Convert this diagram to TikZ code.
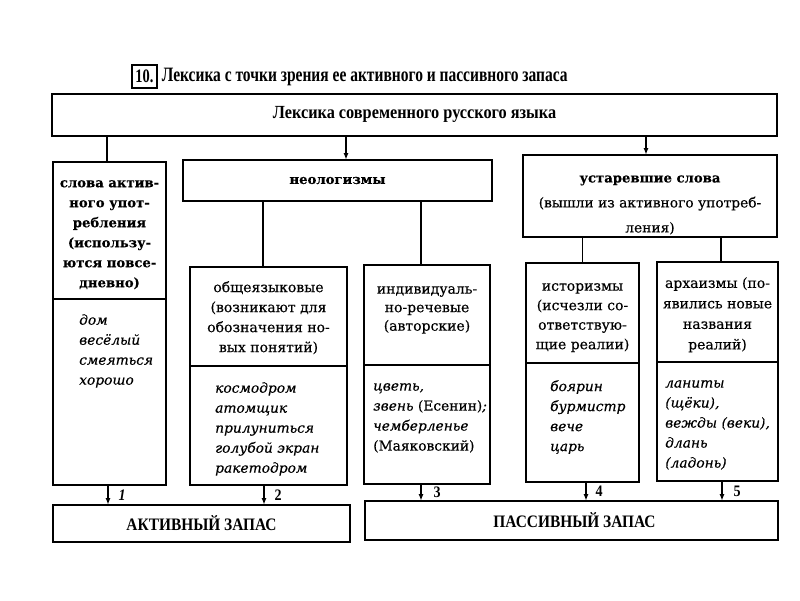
\documentclass[tikz,border=0pt]{standalone}
\usepackage{fontspec}
\setmainfont[FakeBold=0.35]{DejaVu Serif}
\newfontfamily\cond[FakeStretch=0.88]{Liberation Serif}
\newfontfamily\condt[FakeStretch=0.76]{Liberation Serif}
\usetikzlibrary{arrows.meta}
\begin{document}
\begin{tikzpicture}[x=1pt,y=-1pt,
  box/.style={draw, line width=1.6pt, inner sep=0pt, outer sep=0pt, anchor=north west},
  hd/.style={anchor=north, align=center, inner sep=0pt, font={\fontsize{14}{20}\selectfont}},
  hdb/.style={hd, font={\fontsize{13.2}{20}\selectfont\bfseries}},
  ex/.style={anchor=north west, align=left, inner sep=0pt, font={\fontsize{13.8}{20}\selectfont\itshape}},
  arr/.style={line width=1.4pt, -{Latex[length=7pt,width=5pt]}},
  ln/.style={line width=1.4pt},
  num/.style={font={\cond\fontsize{16}{16}\selectfont\bfseries}, anchor=west, inner sep=0pt},
  big/.style={font={\cond\fontsize{18.5}{20}\selectfont\bfseries}},
  zap/.style={font={\cond\fontsize{17.5}{18}\selectfont\bfseries}}
]
\useasboundingbox (0,0) rectangle (800,600);
% title
\node[draw, line width=1.2pt, inner sep=0pt, minimum width=25pt, minimum height=23pt,
      font={\condt\fontsize{19}{19}\selectfont\bfseries}] (t10) at (144.5,76.5) {10.};
\node[anchor=west, inner sep=0pt, font={\condt\fontsize{20.4}{20}\selectfont\bfseries}] (title)
      at ([xshift=4pt]t10.east) {Лексика с точки зрения ее активного и пассивного запаса};
% boxes
\node[box, minimum width=725pt, minimum height=42pt] (top) at (52,94) {};
\node[box, minimum width=113pt, minimum height=137pt] (L) at (53,162) {};
\node[box, minimum width=113pt, minimum height=186pt] (Ll) at (53,299) {};
\node[box, minimum width=309pt, minimum height=41pt] (N) at (183,160) {};
\node[box, minimum width=254pt, minimum height=82pt] (O) at (523,155) {};
\node[box, minimum width=157pt, minimum height=99pt] (G) at (190,267) {};
\node[box, minimum width=157pt, minimum height=119pt] (Gl) at (190,366) {};
\node[box, minimum width=126pt, minimum height=100pt] (I) at (364,265) {};
\node[box, minimum width=126pt, minimum height=119pt] (Il) at (364,365) {};
\node[box, minimum width=113pt, minimum height=100pt] (H) at (526,263) {};
\node[box, minimum width=113pt, minimum height=119pt] (Hl) at (526,363) {};
\node[box, minimum width=121pt, minimum height=100pt] (A) at (657,262) {};
\node[box, minimum width=121pt, minimum height=119pt] (Al) at (657,362) {};
\node[box, minimum width=297pt, minimum height=37pt] (AA) at (53,505) {};
\node[box, minimum width=413pt, minimum height=39pt] (PP) at (365,501) {};
% texts
\node[big] at ([yshift=1pt]top.center) {Лексика современного русского языка};
\node[hdb] at ([yshift=-18pt]L.north) {слова актив-\\ного упот-\\ребления\\(использу-\\ются повсе-\\дневно)};
\node[hdb, anchor=center] at (N.center) {неологизмы};
\node[hd, anchor=center, font={\fontsize{13.8}{25}\selectfont}] at ([yshift=-9pt]O.center)
  {{\fontsize{13.2}{25}\selectfont\bfseries устаревшие слова}\\(вышли из активного употреб-\\ления)};
\node[hd] at ([yshift=-14pt]G.north) {общеязыковые\\(возникают для\\обозначения но-\\вых понятий)};
\node[hd, font={\fontsize{14}{18.5}\selectfont}] at ([yshift=-21pt]I.north) {индивидуаль-\\но-речевые\\(авторские)};
\node[hd, font={\fontsize{14}{19.5}\selectfont}] at ([yshift=-20pt]H.north) {историзмы\\(исчезли со-\\ответствую-\\щие реалии)};
\node[hd, font={\fontsize{14}{20.5}\selectfont}] at ([yshift=-15pt]A.north) {архаизмы (по-\\явились новые\\названия\\реалий)};
\node[ex] at ([xshift=26pt,yshift=-15pt]Ll.north west) {дом\\весёлый\\смеяться\\хорошо};
\node[ex] at ([xshift=25pt,yshift=-16pt]Gl.north west) {космодром\\атомщик\\прилуниться\\голубой экран\\ракетодром};
\node[ex] at ([xshift=9pt,yshift=-18pt]Il.north west) {цветь,\\звень {\upshape(Есенин)};\\чемберленье\\{\upshape(Маяковский)}};
\node[ex] at ([xshift=24pt,yshift=-17pt]Hl.north west) {боярин\\бурмистр\\вече\\царь};
\node[ex] at ([xshift=8pt,yshift=-18pt]Al.north west) {ланиты\\(щёки),\\вежды (веки),\\длань\\(ладонь)};
\node[zap] at (AA.center) {АКТИВНЫЙ ЗАПАС};
\node[zap] at ([xshift=3pt]PP.center) {ПАССИВНЫЙ ЗАПАС};
% connectors
\draw[ln] ([xshift=-2.5pt]L.north) -- ([xshift=-2.5pt]L.north |- top.south);
\draw[arr] ([xshift=8.5pt]N.north |- top.south) -- ([xshift=8.5pt]N.north);
\draw[arr] ([xshift=-4pt]O.north |- top.south) -- ([xshift=-4pt]O.north);
\draw[ln] ([xshift=-5.5pt]G.north) -- ([xshift=-5.5pt]G.north |- N.south);
\draw[ln] ([xshift=-6pt]I.north) -- ([xshift=-6pt]I.north |- N.south);
\draw[ln] (H.north) -- (H.north |- O.south);
\draw[ln] ([xshift=3.5pt]A.north) -- ([xshift=3.5pt]A.north |- O.south);
\draw[arr] ([xshift=-1.5pt]Ll.south) -- ([xshift=-1.5pt]Ll.south |- AA.north)
  node[num, midway, xshift=10pt] {\itshape 1};
\draw[arr] ([xshift=-4.5pt]Gl.south) -- ([xshift=-4.5pt]Gl.south |- AA.north)
  node[num, midway, xshift=10pt] {2};
\draw[arr] ([xshift=-6pt]Il.south) -- ([xshift=-6pt]Il.south |- PP.north)
  node[num, midway, xshift=12pt] {3};
\draw[arr] ([xshift=3.5pt]Hl.south) -- ([xshift=3.5pt]Hl.south |- PP.north)
  node[num, midway, xshift=9pt] {4};
\draw[arr] ([xshift=4.5pt]Al.south) -- ([xshift=4.5pt]Al.south |- PP.north)
  node[num, midway, xshift=11pt] {5};
\end{tikzpicture}
\end{document}
